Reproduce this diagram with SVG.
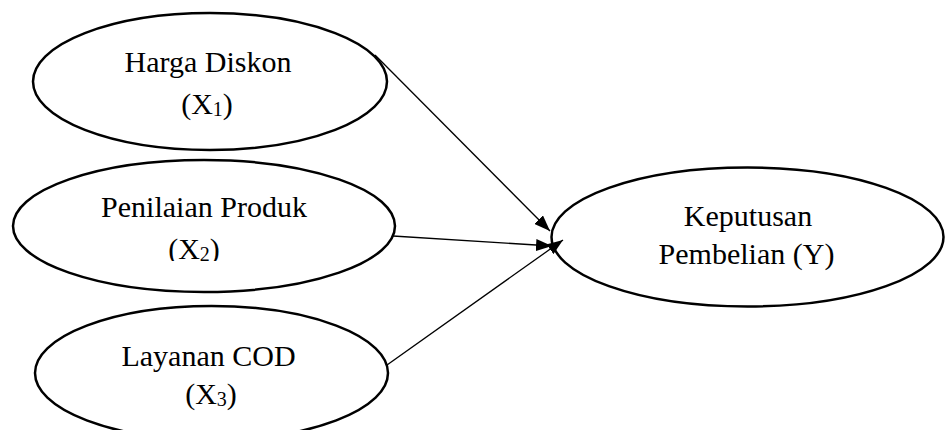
<svg xmlns="http://www.w3.org/2000/svg" width="946" height="430" viewBox="0 0 946 430">
<style>
.node{fill:#fff;stroke:#000;stroke-width:2.5}
.lbl{font-family:"Liberation Serif","Times New Roman",serif;font-size:30px;fill:#000;text-anchor:middle}
.sub{font-size:20px}
.conn{stroke:#000;stroke-width:1.3;fill:none;marker-end:url(#arr)}
</style>
<defs>
<marker id="arr" viewBox="0 0 16 12" refX="16" refY="6" markerWidth="16" markerHeight="12" markerUnits="userSpaceOnUse" orient="auto">
<path d="M0,0 L16,6 L0,12 Z" fill="#000"/>
</marker>
<clipPath id="clipX2"><rect x="0" y="150" width="420" height="111"/></clipPath>
</defs>
<rect width="946" height="430" fill="#fff"/>
<g id="node-x1">
<ellipse class="node" cx="210" cy="81.5" rx="177" ry="68.5"/>
<text class="lbl" x="208" y="72">Harga Diskon</text>
<text class="lbl" x="207" y="114">(X<tspan class="sub" dy="2">1</tspan><tspan dy="-2">)</tspan></text>
</g>
<g id="node-x2">
<ellipse class="node" cx="204" cy="226" rx="191" ry="66"/>
<text class="lbl" x="204" y="217">Penilaian Produk</text>
<text class="lbl" x="194" y="259" clip-path="url(#clipX2)">(X<tspan class="sub" dy="2">2</tspan><tspan dy="-2">)</tspan></text>
</g>
<g id="node-x3">
<ellipse class="node" cx="211.5" cy="373" rx="176.5" ry="67"/>
<text class="lbl" x="208.5" y="366">Layanan COD</text>
<text class="lbl" x="211" y="404">(X<tspan class="sub" dy="2">3</tspan><tspan dy="-2">)</tspan></text>
</g>
<g id="node-y">
<ellipse class="node" cx="747.5" cy="237" rx="196" ry="69.5"/>
<text class="lbl" x="748" y="226">Keputusan</text>
<text class="lbl" x="746.5" y="264">Pembelian (Y)</text>
</g>
<g id="connectors">
<line class="conn" x1="375" y1="55" x2="550" y2="231"/>
<line class="conn" x1="393" y1="236" x2="552" y2="246"/>
<line class="conn" x1="387" y1="365" x2="563" y2="240"/>
</g>
</svg>
